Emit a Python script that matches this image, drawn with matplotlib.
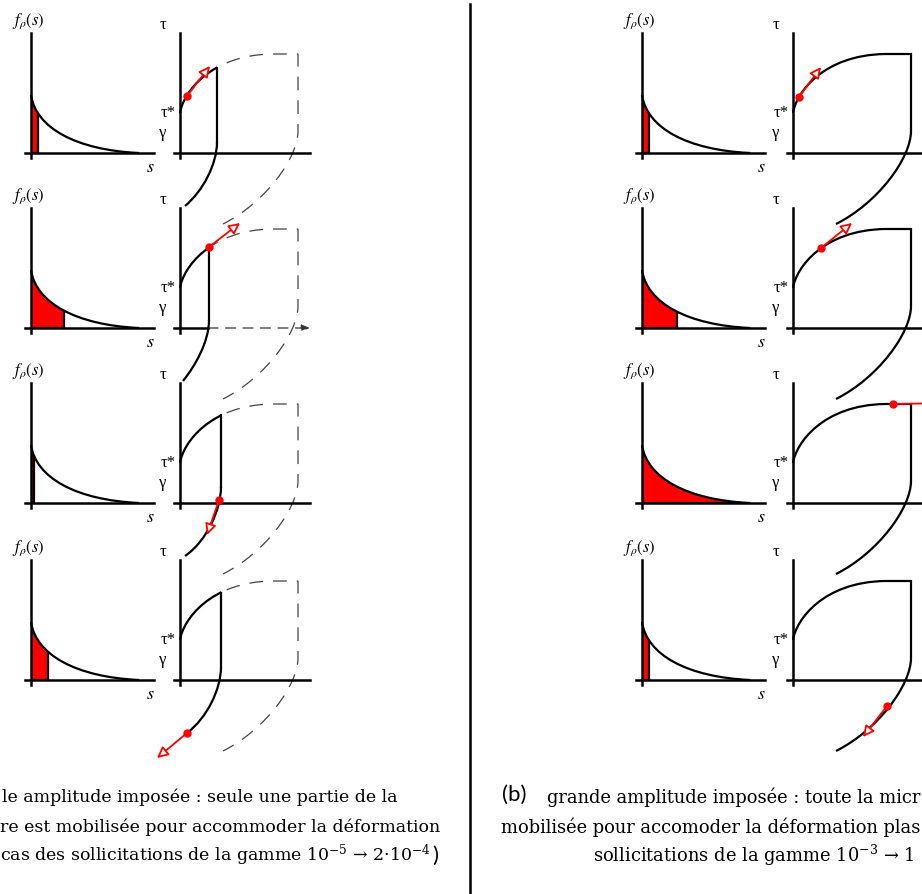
import matplotlib.pyplot as plt
from matplotlib.path import Path
from matplotlib.patches import PathPatch, Rectangle

plt.rcParams['mathtext.fontset'] = 'stix'

# y of the horizontal axes of each row (px from the top of the picture)
row_y = [153, 328, 503, 680]
# x of the f(s) axis and of the tau-gamma axis, per column
cols = {'a': (31, 180), 'b': (642, 793)}

# width of the mobilised (red) part under f_rho(s)
fill_a = [7, 33, 3, 17]
fill_b = [7, 35, 125, 7]

# (a) small loops: tip abscissa, top / bottom of the drop, end x of the reversed branch
tip_x = [37, 29, 41, 41]
tip_top = [-85, -81, -88, -87]
tip_bot = [-11, -8, -16, -13]
rev_end = [5, 3, 5, 7]

# red state point and arrow end, relative to the tau-gamma origin
pt_a = [(7, -57), (29, -81), (39, -3), (7, 53)]
head_a = [(30, -87), (60, -105), (27, 32), (-23, 78)]
pt_b = [(6, -56), (28, -80), (100, -99), (94, 26)]
head_b = [(28, -86), (59, -105), (160, -100), (70, 57)]

# shapes (bezier control points, relative to the axes origin)
dens = [(0, -58), (5, -25), (45, -3), (108, 0)]
asc = [(0, -40), (3, -60), (30, -98), (92, -99)]
corner = (118, -99)
drop = (118, -22)
desc = [(118, 5), (85, 50), (43, 71)]

# captions, as far as they are visible in the cropped figure
cap_a = ["le amplitude imposée : seule une partie de la",
         "re est mobilisée pour accommoder la déformation",
         "cas des sollicitations de la gamme 10$^{-5}$ → 2·10$^{-4}$"]
cap_b = ["grande amplitude imposée : toute la micr",
         "mobilisée pour accomoder la déformation plas",
         "sollicitations de la gamme 10$^{-3}$ → 1"]

fig = plt.figure(figsize=(9.22, 8.94), dpi=100)
ax = fig.add_axes([0, 0, 1, 1])
ax.set_xlim(0, 922)
ax.set_ylim(894, 0)
ax.axis('off')

C4 = Path.CURVE4


def shift(pts, dx, dy):
    return [(x + dx, y + dy) for x, y in pts]


def loop_path(X, Y):
    v = shift([asc[0], asc[1], asc[2], asc[3], corner, drop] + desc, X, Y)
    codes = [Path.MOVETO, C4, C4, C4, Path.LINETO, Path.LINETO, C4, C4, C4]
    return Path(v, codes)


def clip_box(x, y, w, h):
    return Rectangle((x, y), w, h, transform=ax.transData)


def density(x0, y0, w):
    area = Path(shift([(0, 0)] + dens + [(0, 0)], x0, y0),
                [Path.MOVETO, Path.LINETO, C4, C4, C4, Path.CLOSEPOLY])
    clip = PathPatch(area, transform=ax.transData)
    r = ax.add_patch(Rectangle((x0, y0 - 70), w, 70, fc='red', ec='black', lw=1.6, zorder=1))
    r.set_clip_path(clip)
    ax.add_patch(PathPatch(Path(shift(dens, x0, y0), [Path.MOVETO, C4, C4, C4]),
                           fill=False, ec='black', lw=1.6, zorder=2))
    ax.plot([x0, x0], [y0 - 120, y0 + 5], color='black', lw=1.8, zorder=3)
    ax.plot([x0 - 6, x0 + 123], [y0, y0], color='black', lw=1.8, zorder=3)
    ax.text(x0 - 19, y0 - 132, r'$f_{\rho}(s)$', fontsize=12, va='center', ha='left')
    ax.text(x0 + 119, y0 + 14, r'$s$', fontsize=13, va='center', ha='center')


def tau_axes(X, Y, xend, dashed=False):
    ax.plot([X, X], [Y - 120, Y + 5], color='black', lw=1.8, zorder=3)
    if dashed:
        ax.plot([X - 6, X + 28], [Y, Y], color='black', lw=1.8, zorder=3)
        ax.annotate('', xy=(xend, Y), xytext=(X + 28, Y),
                    arrowprops=dict(arrowstyle='-|>,head_length=0.5,head_width=0.2',
                                    color='#333333', lw=0.9, ls=(0, (8, 6)),
                                    shrinkA=0, shrinkB=0, mutation_scale=10))
    else:
        ax.plot([X - 6, xend], [Y, Y], color='black', lw=1.8, zorder=3)
    ax.text(X - 17, Y - 128, 'τ', family='Liberation Serif', fontsize=12, va='center', ha='center')
    ax.text(X - 12, Y - 40, 'τ*', family='Liberation Serif', fontsize=12, va='center', ha='center')
    ax.text(X - 17, Y - 20, 'γ', family='Liberation Serif', fontsize=12, va='center', ha='center')


def red_arrow(X, Y, p, h):
    ax.annotate('', xy=(X + h[0], Y + h[1]), xytext=(X + p[0], Y + p[1]),
                annotation_clip=False,
                arrowprops=dict(arrowstyle='-|>,head_length=0.6,head_width=0.3',
                                ec='red', fc='white', lw=1.3, shrinkA=0, shrinkB=0,
                                mutation_scale=11), zorder=6)
    ax.plot(X + p[0], Y + p[1], 'o', color='red', ms=5, zorder=7)


# (a) small amplitude
xa, Xa = cols['a']
for i, Y in enumerate(row_y):
    density(xa, Y, fill_a[i])
    tau_axes(Xa, Y, Xa + 130, dashed=(i == 1))
    T = tip_x[i]
    big = PathPatch(loop_path(Xa, Y), fill=False, ec='#444444', lw=0.9, ls=(0, (11, 8)), zorder=2)
    ax.add_patch(big)
    big.set_clip_path(clip_box(Xa + T + 1, Y - 150, 300, 300))
    up = PathPatch(Path(shift(asc, Xa, Y), [Path.MOVETO, C4, C4, C4]),
                   fill=False, ec='black', lw=1.6, zorder=3)
    ax.add_patch(up)
    up.set_clip_path(clip_box(Xa - 5, Y - 150, T + 5, 300))
    ax.plot([Xa + T, Xa + T], [Y + tip_top[i], Y + tip_bot[i]], color='black', lw=1.6, zorder=3)
    rev = [(T, tip_bot[i]), (T, tip_bot[i] + 22), (T - 14, 38), (rev_end[i], 53)]
    ax.add_patch(PathPatch(Path(shift(rev, Xa, Y), [Path.MOVETO, C4, C4, C4]),
                           fill=False, ec='black', lw=1.6, zorder=3))
    red_arrow(Xa, Y, pt_a[i], head_a[i])

# (b) large amplitude
xb, Xb = cols['b']
for i, Y in enumerate(row_y):
    density(xb, Y, fill_b[i])
    tau_axes(Xb, Y, 930)
    ax.add_patch(PathPatch(loop_path(Xb, Y), fill=False, ec='black', lw=1.6, zorder=3))
    red_arrow(Xb, Y, pt_b[i], head_b[i])

# separator
ax.plot([470, 470], [4, 894], color='black', lw=1.8)

# captions
cap_y = [797, 827, 855]
cap_a_left = [2, 0, 0]
last = None
for t, y, xl in zip(cap_a, cap_y, cap_a_left):
    last = ax.text(xl, y, t, family='DejaVu Serif', math_fontfamily='dejavuserif',
                   fontsize=12.5, ha='left', va='center')
ax.annotate(')', xy=(1.0, 0.45), xycoords=last, xytext=(1, 0), textcoords='offset points',
            family='Lato', fontsize=16, ha='left', va='center')
ax.text(502, 795, '(b)', family='Lato', fontsize=16, ha='left', va='center')
ax.text(920, 797, cap_b[0], family='DejaVu Serif', fontsize=12.9, ha='right', va='center')
ax.text(920, 827, cap_b[1], family='DejaVu Serif', fontsize=12.9, ha='right', va='center')
ax.text(593, 855, cap_b[2], family='DejaVu Serif', math_fontfamily='dejavuserif',
        fontsize=12.9, ha='left', va='center')

fig.savefig('out.png', dpi=100)
